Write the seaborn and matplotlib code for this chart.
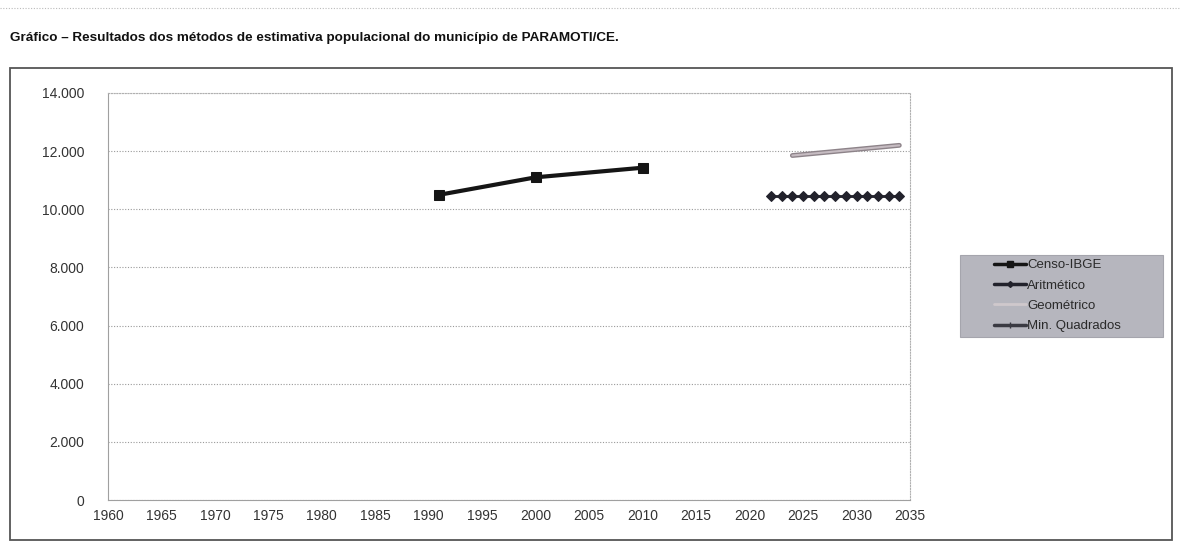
import pandas as pd
import matplotlib.pyplot as plt
import seaborn as sns
from matplotlib.patches import Rectangle
from matplotlib.lines import Line2D
from matplotlib.ticker import FuncFormatter

# dados
censo_anos = [1991, 2000, 2010]
censo_pop = [10500, 11100, 11430]

arit_anos = [2022, 2023, 2024, 2025, 2026, 2027, 2028, 2029, 2030, 2031, 2032, 2033, 2034]
arit_pop = [10440, 10440, 10440, 10440, 10440, 10440, 10440, 10440, 10440, 10440, 10440, 10440, 10440]

geo_anos = [2024, 2026, 2028, 2030, 2032, 2034]
geo_pop = [11850, 11920, 11990, 12060, 12130, 12200]

mq_anos = [2024, 2026, 2028, 2030, 2032, 2034]
mq_pop = [11850, 11920, 11990, 12060, 12130, 12200]

legenda = ['Censo-IBGE', 'Aritmético', 'Geométrico', 'Min. Quadrados']
anos_ticks = [1960, 1965, 1970, 1975, 1980, 1985, 1990, 1995, 2000, 2005, 2010, 2015, 2020, 2025, 2030, 2035]
pop_ticks = [0, 2000, 4000, 6000, 8000, 10000, 12000, 14000]

sns.set_style("white")
plt.rcParams['font.family'] = ['Liberation Sans', 'DejaVu Sans']

W, H = 1180, 546
fig = plt.figure(figsize=(W / 100, H / 100), dpi=100)
ax = fig.add_axes([108 / W, 1 - 500 / H, (910 - 108) / W, (500 - 93) / H])

sns.lineplot(x=mq_anos, y=mq_pop, ax=ax, color='#8d8389', lw=3.5, legend=False)
sns.lineplot(x=geo_anos, y=geo_pop, ax=ax, color='#c6bcc2', lw=1.5, legend=False)
sns.lineplot(x=censo_anos, y=censo_pop, ax=ax, color='#151515', lw=3, marker='s',
             markersize=7, markeredgecolor='#151515', legend=False)
sns.lineplot(x=arit_anos, y=arit_pop, ax=ax, color='#22222c', lw=2, marker='D',
             markersize=5.5, markeredgecolor='#22222c', legend=False)

ax.set_xlim(1960, 2035)
ax.set_ylim(0, 14000)
ax.set_xticks(anos_ticks)
ax.set_yticks(pop_ticks)
ax.yaxis.set_major_formatter(FuncFormatter(lambda v, p: f"{v:,.0f}".replace(",", ".")))
ax.tick_params(axis='both', labelsize=10, labelcolor='#333333', length=3, color='#aaaaaa', width=0.8)
ax.tick_params(axis='y', pad=14)
ax.set_xlabel('')
ax.set_ylabel('')

ax.yaxis.grid(True, ls=(0, (1, 1.5)), color='#9a9a9a', lw=0.8)
for s in ['left', 'bottom']:
    ax.spines[s].set_color('#a0a0a0')
    ax.spines[s].set_linewidth(0.8)
for s in ['top', 'right']:
    ax.spines[s].set_color('#b0b0b0')
    ax.spines[s].set_linestyle((0, (1, 1.5)))
    ax.spines[s].set_linewidth(0.8)

# legenda com fundo cinza
fig.patches.append(Rectangle((960 / W, 1 - 337 / H), 203 / W, 82 / H, transform=fig.transFigure,
                             facecolor='#b6b6be', edgecolor='#a5a5ad', lw=0.8, zorder=1))
handles = [
    Line2D([], [], color='#151515', lw=2.5, marker='s', markersize=4),
    Line2D([], [], color='#22222c', lw=2.5, marker='D', markersize=3),
    Line2D([], [], color='#cfc8cc', lw=2),
    Line2D([], [], color='#3a3a42', lw=2.5, marker='|', markersize=5),
]
leg = fig.legend(handles, legenda, loc='upper left', bbox_to_anchor=(994 / W, 1 - 259 / H),
                 frameon=False, fontsize=9.5, handlelength=2.4, labelspacing=0.62,
                 handletextpad=0.1, borderpad=0, borderaxespad=0)
for t in leg.get_texts():
    t.set_color('#2a2a2a')

# moldura externa e titulo
fig.patches.append(Rectangle((10 / W, 1 - 540 / H), 1162 / W, 472 / H, transform=fig.transFigure,
                             fill=False, edgecolor='#555555', lw=1.3))
fig.lines.append(Line2D([0, 1], [1 - 8 / H, 1 - 8 / H], transform=fig.transFigure,
                        color='#bbbbbb', lw=0.8, ls=(0, (1, 1.5))))
fig.text(10 / W, 1 - 38 / H,
         "Gráfico – Resultados dos métodos de estimativa populacional do município de PARAMOTI/CE.",
         fontsize=9.7, fontweight='bold', va='center', color='#111111')

fig.savefig('out.png', dpi=100)
